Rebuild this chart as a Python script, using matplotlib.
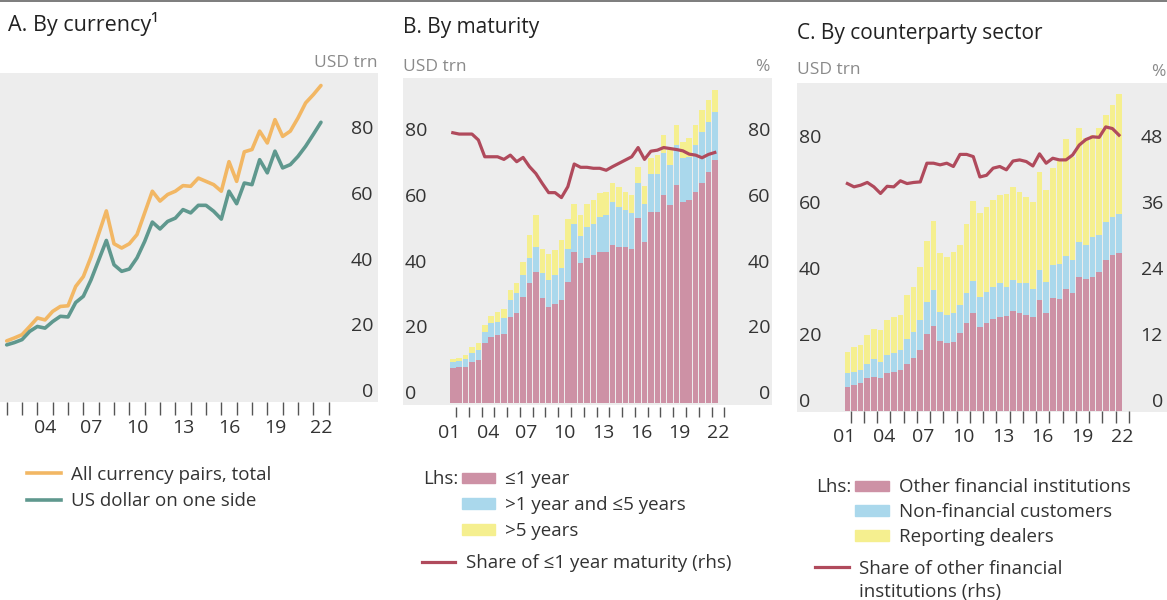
import numpy as np
import matplotlib
matplotlib.use("Agg")
import matplotlib.pyplot as plt
from matplotlib.lines import Line2D
from matplotlib.patches import Patch, Rectangle

plt.rcParams['font.family'] = ['Open Sans', 'DejaVu Sans']

W, H = 1167, 600

# semi-annual observations, end-Dec 2001 .. end-Jun 2022
obs_end = np.arange(2002.0, 2023.0, 0.5)   # line points (panel A)
bar_pos = obs_end - 0.25                    # bar centres (panels B, C)
year_ticks = np.arange(2002, 2024)
xlabels = ['01', '04', '07', '10', '13', '16', '19', '22']

# A. By currency (USD trn)
all_pairs = [18.3, 19.2, 20.2, 22.7, 25.3, 24.7, 27.3, 28.8, 29.0, 34.9, 37.9, 43.9, 50.9, 57.9,
             47.9, 46.6, 47.9, 50.7, 57.3, 63.9, 60.9, 62.9, 63.9, 65.6, 65.4, 67.9, 66.9, 65.9,
             63.9, 72.9, 66.9, 75.9, 76.6, 82.2, 78.6, 85.7, 80.6, 82.2, 86.2, 90.8, 93.3, 96.1]
usd_side = [17.1, 17.8, 18.7, 21.2, 22.7, 22.2, 24.2, 25.8, 25.6, 30.0, 31.9, 36.9, 42.9, 48.9,
            41.5, 39.5, 40.2, 43.6, 48.6, 54.5, 52.4, 54.7, 55.7, 58.3, 57.3, 59.6, 59.6, 57.8,
            55.4, 63.9, 60.1, 66.4, 65.9, 73.5, 69.5, 76.1, 71.0, 72.0, 74.5, 77.6, 81.2, 84.9]

# B. By maturity (USD trn, share in %)
mat_le1 = [10.6, 10.9, 11.1, 12.6, 13.1, 18.2, 20.2, 20.7, 21.2, 26.3, 27.3, 32.4, 36.4, 40.0,
           31.9, 29.3, 30.3, 31.4, 36.9, 46.0, 42.5, 44.0, 45.0, 46.0, 46.0, 48.0, 47.6, 47.6,
           47.0, 56.2, 49.0, 58.2, 58.2, 63.3, 60.2, 66.3, 61.2, 61.7, 64.3, 66.8, 70.3, 73.9]
mat_1to5 = [2.0, 1.9, 2.3, 2.6, 3.1, 3.5, 4.1, 4.1, 4.6, 5.1, 6.1, 6.6, 7.6, 7.6,
            7.6, 8.1, 8.7, 9.6, 10.1, 8.6, 8.3, 9.6, 9.6, 10.7, 11.2, 13.2, 12.1, 11.1,
            10.7, 10.6, 11.7, 11.6, 11.6, 12.6, 12.2, 12.1, 13.2, 13.2, 14.1, 15.7, 15.2, 14.7]
mat_gt5 = [0.8, 1.0, 1.2, 1.8, 2.0, 2.1, 2.2, 3.0, 3.0, 3.0, 3.2, 4.0, 7.1, 9.6,
           7.5, 8.1, 7.5, 8.6, 8.9, 6.1, 6.4, 7.1, 7.3, 7.1, 7.1, 5.6, 6.1, 5.6,
           5.6, 5.1, 5.3, 4.6, 5.6, 5.6, 4.5, 6.1, 5.1, 5.6, 6.1, 6.6, 6.6, 6.6]
share_le1 = [82.2, 81.8, 81.8, 81.8, 80.0, 74.9, 74.9, 74.9, 74.1, 75.4, 73.4, 74.7, 71.9, 69.8,
             66.8, 64.0, 64.0, 62.5, 65.8, 72.7, 71.7, 71.7, 71.4, 71.4, 70.8, 71.9, 72.9, 73.9,
             74.9, 77.7, 74.1, 76.6, 76.9, 77.7, 77.4, 77.1, 76.7, 75.7, 75.4, 74.6, 75.6, 76.2]

# C. By counterparty sector (USD trn, share in %)
other_fin = [7.3, 7.8, 8.3, 9.8, 10.3, 9.8, 11.3, 11.8, 12.3, 14.3, 15.9, 18.4, 23.2, 25.7,
             21.2, 20.6, 20.9, 23.4, 26.5, 29.5, 25.5, 26.5, 27.7, 28.5, 28.7, 30.3, 29.7, 29.0,
             28.3, 33.5, 29.5, 34.3, 34.0, 36.9, 35.6, 40.6, 39.8, 40.6, 42.1, 45.7, 47.2, 47.9]
non_fin = [4.2, 4.0, 4.0, 4.5, 5.3, 5.0, 5.6, 5.8, 6.1, 7.3, 8.0, 9.1, 9.8, 10.9,
           8.8, 8.4, 8.6, 8.6, 9.1, 9.9, 9.0, 9.6, 9.9, 10.3, 8.9, 9.3, 9.1, 9.6,
           8.5, 9.1, 9.6, 9.8, 10.4, 10.0, 10.1, 10.6, 10.4, 12.1, 11.1, 11.6, 11.6, 11.7]
dealers = [6.4, 7.4, 7.6, 8.6, 9.3, 9.8, 10.6, 10.9, 10.6, 13.4, 13.7, 15.9, 18.5, 20.9,
           17.7, 17.7, 18.7, 18.2, 21.0, 24.2, 25.5, 25.7, 26.2, 26.6, 28.1, 28.1, 27.6, 26.2,
           26.5, 29.8, 27.8, 29.3, 31.6, 35.3, 31.3, 34.4, 32.3, 30.8, 32.4, 32.3, 33.8, 36.3]
share_ofi = [41.3, 40.7, 41.0, 41.5, 40.7, 39.5, 40.8, 40.7, 41.8, 41.3, 41.5, 41.6, 45.0, 45.0,
             44.7, 45.0, 44.4, 46.6, 46.6, 46.2, 42.5, 42.8, 44.1, 44.4, 43.8, 45.4, 45.6, 45.3,
             44.5, 46.7, 45.0, 45.9, 45.6, 45.6, 46.5, 48.3, 49.3, 49.8, 49.7, 51.6, 51.3, 50.1]

ORANGE = '#f2b764'
TEAL = '#5f988e'
PINK = '#cd91a5'
BLUE = '#aad8ec'
YELLOW = '#f5ef8f'
RED = '#b04a5c'
BG = '#ededed'
TXT = '#333333'
UNIT = '#8a8a8a'
FS_TICK = 14
FS_LEG = 13.5


def px_axes(fig, left, right, top, bottom, x0, ppy, y0, ppu):
    # axes placed in pixel coords, scaled so that year 2002 sits at x0 and 0 at y0
    ax = fig.add_axes([left / W, 1 - bottom / H, (right - left) / W, (bottom - top) / H])
    ax.set_xlim(2002 + (left - x0) / ppy, 2002 + (right - x0) / ppy)
    ax.set_ylim((y0 - bottom) / ppu, (y0 - top) / ppu)
    ax.set_facecolor('none')
    for s in ax.spines.values():
        s.set_visible(False)
    return ax


def style_x(ax, tick_len, labels):
    ax.set_xticks(year_ticks)
    ax.tick_params(axis='x', which='major', length=tick_len, width=1.0, color='#555555',
                   labelbottom=False)
    pos = [2000 + int(l) + 0.5 for l in labels]
    ax.set_xticks(pos, minor=True)
    ax.set_xticklabels(labels, minor=True)
    ax.tick_params(axis='x', which='minor', length=0, pad=12.5, labelsize=FS_TICK,
                   labelcolor=TXT)


def style_y(ax, side, ticks, pad_px):
    ax.set_yticks(ticks)
    if side == 'right':
        ax.yaxis.tick_right()
    ax.tick_params(axis='y', length=0, pad=pad_px * 0.72, labelsize=FS_TICK, labelcolor=TXT)
    plt.setp(ax.get_yticklabels(), ha=side, va='bottom')


def background(fig, x1, y1, x2, y2):
    fig.add_artist(Rectangle((x1 / W, 1 - y2 / H), (x2 - x1) / W, (y2 - y1) / H,
                             transform=fig.transFigure, facecolor=BG, edgecolor='none',
                             zorder=-5))


def legend_at(fig, handles, labels, x, y, **kw):
    opts = dict(loc='upper left', bbox_to_anchor=(x / W, 1 - y / H), frameon=False,
                fontsize=FS_LEG, labelcolor=TXT, handlelength=1.8, handletextpad=0.55,
                borderpad=0, borderaxespad=0)
    opts.update(kw)
    return fig.legend(handles=handles, labels=labels, **opts)


fig = plt.figure(figsize=(W / 100, H / 100), dpi=100)
fig.patch.set_facecolor('white')

fig.add_artist(Line2D([0, 1], [1 - 1 / H] * 2, transform=fig.transFigure, color='#666666', lw=1.2))

# ---------------- A. By currency
background(fig, 0, 73, 378, 401.7)
axA = px_axes(fig, 0, 335, 73, 401.7, 6.7, 15.33, 401, 3.283)
axA.plot(obs_end, all_pairs, color=ORANGE, lw=2.6, solid_capstyle='round')
axA.plot(obs_end, usd_side, color=TEAL, lw=2.6, solid_capstyle='round')
style_x(axA, 9.5, xlabels[1:])
style_y(axA, 'right', [0, 20, 40, 60, 80], 38)
fig.text(8 / W, 1 - 24 / H, 'A. By currency¹', fontsize=15.5, color='#222222', va='center')
fig.text(378 / W, 1 - 63 / H, 'USD trn', fontsize=12.5, color=UNIT, ha='right', va='center')
legend_at(fig, [Line2D([], [], color=ORANGE, lw=2.6), Line2D([], [], color=TEAL, lw=2.6)],
          ['All currency pairs, total', 'US dollar on one side'], 27, 466,
          labelspacing=0.45)

# ---------------- B. By maturity
background(fig, 403, 78, 772, 405)
axB = px_axes(fig, 440, 735, 78, 406.7, 456, 12.78, 403.3, 3.2915)
b1 = np.array(mat_le1)
b2 = b1 + np.array(mat_1to5)
axB.bar(bar_pos, mat_le1, width=0.43, color=PINK, lw=0)
axB.bar(bar_pos, mat_1to5, width=0.43, bottom=b1, color=BLUE, lw=0)
axB.bar(bar_pos, mat_gt5, width=0.43, bottom=b2, color=YELLOW, lw=0)
style_x(axB, 7.2, xlabels)
style_y(axB, 'left', [0, 20, 40, 60, 80], 35)
axB2 = axB.twinx()
axB2.set_ylim(axB.get_ylim())
axB2.set_facecolor('none')
for s in axB2.spines.values():
    s.set_visible(False)
axB2.plot(bar_pos, share_le1, color=RED, lw=2.3)
style_y(axB2, 'right', [0, 20, 40, 60, 80], 35)
fig.text(403 / W, 1 - 28 / H, 'B. By maturity', fontsize=15, color='#222222', va='center')
fig.text(403 / W, 1 - 67 / H, 'USD trn', fontsize=12.5, color=UNIT, va='center')
fig.text(770 / W, 1 - 67 / H, '%', fontsize=12.5, color=UNIT, ha='right', va='center')
fig.text(423 / W, 1 - 479 / H, 'Lhs:', fontsize=FS_LEG, color=TXT, va='center')
legend_at(fig, [Patch(color=PINK), Patch(color=BLUE), Patch(color=YELLOW)],
          ['≤1 year', '>1 year and ≤5 years', '>5 years'], 462, 470.5,
          handlelength=1.76, handleheight=0.5, handletextpad=0.53, labelspacing=0.42)
legend_at(fig, [Line2D([], [], color=RED, lw=2.3)], ['Share of ≤1 year maturity (rhs)'],
          422, 554.5, handlelength=1.76, handletextpad=0.59)

# ---------------- C. By counterparty sector
background(fig, 797, 83, 1167, 412)
axC = px_axes(fig, 835, 1140, 83, 410.7, 850.7, 13.25, 410.7, 3.3)
c1 = np.array(other_fin)
c2 = c1 + np.array(non_fin)
axC.bar(bar_pos, other_fin, width=0.43, color=PINK, lw=0)
axC.bar(bar_pos, non_fin, width=0.43, bottom=c1, color=BLUE, lw=0)
axC.bar(bar_pos, dealers, width=0.43, bottom=c2, color=YELLOW, lw=0)
style_x(axC, 8.4, xlabels)
style_y(axC, 'left', [0, 20, 40, 60, 80], 36)
axC2 = axC.twinx()
lo, hi = axC.get_ylim()
axC2.set_ylim(lo * 0.6, hi * 0.6)
axC2.set_facecolor('none')
for s in axC2.spines.values():
    s.set_visible(False)
axC2.plot(bar_pos, share_ofi, color=RED, lw=2.3)
style_y(axC2, 'right', [0, 12, 24, 36, 48], 23)
fig.text(797 / W, 1 - 33 / H, 'C. By counterparty sector', fontsize=15, color='#222222',
         va='center')
fig.text(797 / W, 1 - 70 / H, 'USD trn', fontsize=12.5, color=UNIT, va='center')
fig.text(1166 / W, 1 - 72 / H, '%', fontsize=12.5, color=UNIT, ha='right', va='center')
fig.text(816 / W, 1 - 487 / H, 'Lhs:', fontsize=FS_LEG, color=TXT, va='center')
legend_at(fig, [Patch(color=PINK), Patch(color=BLUE), Patch(color=YELLOW)],
          ['Other financial institutions', 'Non-financial customers', 'Reporting dealers'],
          855, 478.5, handleheight=0.5, handletextpad=0.53, labelspacing=0.36)
legend_at(fig, [Line2D([], [], color=RED, lw=2.3)], ['Share of other financial'],
          815, 559.5, handletextpad=0.53)
fig.text(859 / W, 1 - 592 / H, 'institutions (rhs)', fontsize=FS_LEG, color=TXT, va='center')

fig.savefig('out.png', dpi=100)
